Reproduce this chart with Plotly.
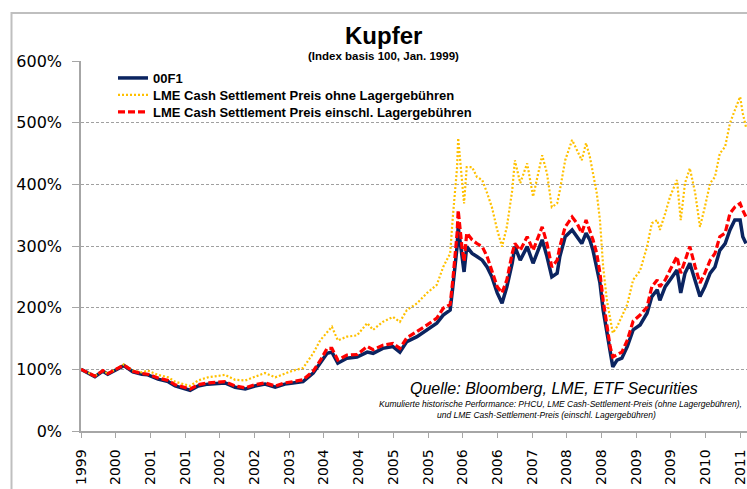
import plotly.graph_objects as go

# ---------------- data ----------------
YEARS = [1999.00, 1999.26, 1999.41, 1999.50, 1999.65, 1999.80, 1999.97, 2000.14, 2000.25, 2000.44,
         2000.63, 2000.76, 2001.04, 2001.19, 2001.37, 2001.69, 2001.88, 2002.07, 2002.25, 2002.44,
         2002.63, 2002.81, 2002.96, 2003.15, 2003.34, 2003.47, 2003.60, 2003.69, 2003.80, 2003.97,
         2004.16, 2004.35, 2004.46, 2004.64, 2004.83, 2004.96, 2005.09, 2005.28, 2005.47, 2005.65,
         2005.77, 2005.90, 2005.95, 2006.03, 2006.05, 2006.12, 2006.16, 2006.21, 2006.31, 2006.40,
         2006.50, 2006.59, 2006.68, 2006.78, 2006.87, 2006.96, 2007.06, 2007.11, 2007.21, 2007.34,
         2007.45, 2007.62, 2007.71, 2007.80, 2007.90, 2007.95, 2008.05, 2008.18, 2008.27, 2008.36,
         2008.44, 2008.51, 2008.57, 2008.64, 2008.70, 2008.76, 2008.83, 2008.89, 2008.94, 2009.02,
         2009.11, 2009.21, 2009.32, 2009.45, 2009.58, 2009.67, 2009.77, 2009.82, 2009.92, 2010.01,
         2010.14, 2010.21, 2010.29, 2010.38, 2010.48, 2010.57, 2010.66, 2010.76, 2010.85, 2010.94,
         2011.04, 2011.13, 2011.22, 2011.32, 2011.37, 2011.43]

PHCU_00F1 = [100, 88, 97, 92, 99, 106, 96, 92, 91, 84,
             80, 73, 66, 73, 76, 78, 71, 68, 73, 76,
             71, 76, 78, 80, 94, 110, 126, 128, 110, 118,
             120, 128, 126, 134, 137, 128, 145, 153, 164, 175,
             188, 196, 234, 299, 331, 283, 258, 299, 288, 283,
             277, 266, 250, 224, 207, 234, 272, 299, 277, 299,
             272, 310, 283, 250, 256, 283, 315, 326, 315, 304,
             321, 310, 293, 266, 240, 196, 159, 126, 104, 115,
             118, 137, 164, 172, 191, 218, 229, 212, 234, 245,
             261, 224, 256, 272, 245, 218, 234, 256, 266, 293,
             304, 326, 342, 342, 315, 304]

LME_OHNE = [100, 89, 98, 93, 100, 108, 98, 95, 98, 91,
            87, 80, 73, 82, 87, 91, 83, 82, 88, 94,
            87, 93, 98, 102, 126, 147, 159, 169, 147, 153,
            155, 175, 164, 177, 185, 177, 196, 207, 224, 237,
            266, 288, 347, 428, 475, 402, 369, 428, 428, 412,
            407, 386, 363, 326, 299, 331, 390, 439, 402, 434,
            380, 447, 418, 363, 369, 390, 439, 472, 455, 439,
            467, 445, 418, 386, 342, 266, 212, 180, 159, 169,
            185, 205, 245, 260, 299, 337, 342, 326, 353, 380,
            407, 342, 402, 426, 386, 331, 363, 402, 412, 450,
            461, 499, 520, 542, 515, 493]

LME_EINSCHL = [100, 89, 98, 93, 100, 107, 97, 93, 92, 86,
               82, 75, 68, 75, 78, 80, 73, 70, 75, 78,
               73, 78, 80, 83, 97, 114, 134, 134, 115, 123,
               124, 137, 132, 139, 142, 134, 151, 161, 172, 183,
               199, 205, 245, 321, 358, 299, 275, 321, 310, 304,
               299, 283, 261, 234, 224, 245, 288, 304, 293, 315,
               293, 331, 304, 266, 277, 299, 331, 347, 337, 321,
               342, 326, 310, 288, 256, 212, 169, 137, 120, 124,
               128, 147, 178, 188, 201, 234, 245, 234, 245, 261,
               283, 256, 277, 299, 266, 240, 256, 277, 288, 315,
               321, 353, 363, 369, 358, 347]

X_TICK_LABELS = ["1999", "2000", "2001", "2001", "2002", "2002", "2003", "2004", "2004", "2005",
                 "2005", "2006", "2006", "2007", "2008", "2008", "2009", "2009", "2010", "2011"]
X_TICK_START = 1999.0
X_TICK_STEP = 0.6486          # years between category ticks
Y_TICKS = [0, 100, 200, 300, 400, 500, 600]
Y_TICK_LABELS = ["0%", "100%", "200%", "300%", "400%", "500%", "600%"]

SERIES_NAMES = ["00F1",
                "LME Cash Settlement Preis ohne Lagergebühren",
                "LME Cash Settlement Preis einschl. Lagergebühren"]

# ---------------- figure ----------------
W, H = 747, 489
ML, MR, MT, MB = 81, 0, 61, 58
PX_PER_YEAR = 53.5
x_end = X_TICK_START + (W - ML - MR) / PX_PER_YEAR

fig = go.Figure()
fig.add_trace(go.Scatter(x=YEARS, y=PHCU_00F1, name=SERIES_NAMES[0], mode="lines",
                         line=dict(color="#0b2460", width=3.5), legend="legend"))
fig.add_trace(go.Scatter(x=YEARS, y=LME_OHNE, name=SERIES_NAMES[1], mode="lines",
                         line=dict(color="#ffc000", width=2.2, dash="2px,2px"), legend="legend2"))
fig.add_trace(go.Scatter(x=YEARS, y=LME_EINSCHL, name=SERIES_NAMES[2], mode="lines",
                         line=dict(color="#ff0000", width=3.2, dash="7px,3px"), legend="legend3"))

tickvals = [X_TICK_START + k * X_TICK_STEP for k in range(len(X_TICK_LABELS))]

pw = W - ML - MR
ph = H - MT - MB
def px_x(p):
    return (p - ML) / pw
def px_y(p):
    return (H - MB - p) / ph

LEG_FONT = dict(family="Liberation Sans, Arial", size=13, color="#000", weight="bold")
def legend_at(py):
    return dict(x=px_x(113), y=px_y(py), xanchor="left", yanchor="middle",
                bgcolor="rgba(0,0,0,0)", itemwidth=30, font=LEG_FONT)

fig.update_layout(
    width=W, height=H,
    margin=dict(l=ML, r=MR, t=MT, b=MB, autoexpand=False),
    paper_bgcolor="white", plot_bgcolor="white",
    showlegend=True,
    legend=legend_at(78),
    legend2=legend_at(95),
    legend3=legend_at(112),
    xaxis=dict(range=[X_TICK_START, x_end], tickmode="array", tickvals=tickvals,
               ticktext=X_TICK_LABELS, tickangle=-90, showgrid=False,
               showline=True, linecolor="#a6a6a6", linewidth=1.5,
               ticks="outside", ticklen=5, tickcolor="#a6a6a6",
               ticklabelstandoff=6, ticklabeloverflow="allow",
               tickfont=dict(family="DejaVu Sans", size=14, color="#000"),
               automargin=False, zeroline=False),
    yaxis=dict(range=[0, 600], tickmode="array", tickvals=Y_TICKS, ticktext=Y_TICK_LABELS,
               showgrid=True, gridcolor="#a0a0a0", gridwidth=1, griddash="3px,2px",
               showline=True, linecolor="#a6a6a6", linewidth=1.5,
               ticks="outside", ticklen=7, tickcolor="#a6a6a6",
               ticklabelstandoff=7,
               tickfont=dict(family="DejaVu Sans", size=16, color="#000"),
               automargin=False, zeroline=False),
    annotations=[
        dict(text="<b>Kupfer</b>", x=px_x(383), y=px_y(35), xref="paper", yref="paper",
             showarrow=False, xanchor="center", yanchor="middle",
             font=dict(family="Liberation Sans, Arial", size=24, color="#000")),
        dict(text="<b>(Index basis 100, Jan. 1999)</b>", x=px_x(383), y=px_y(56),
             xref="paper", yref="paper", showarrow=False, xanchor="center", yanchor="middle",
             font=dict(family="Liberation Sans, Arial", size=11.5, color="#000")),
        dict(text="<i>Quelle: Bloomberg, LME, ETF Securities</i>", x=px_x(554), y=px_y(388),
             xref="paper", yref="paper", showarrow=False, xanchor="center", yanchor="middle",
             font=dict(family="Liberation Sans, Arial", size=16, color="#000")),
        dict(text="<i>Kumulierte historische Performance: PHCU, LME Cash-Settlement-Preis (ohne Lagergebühren),</i>",
             x=px_x(744), y=px_y(404), xref="paper", yref="paper", showarrow=False,
             xanchor="right", yanchor="middle",
             font=dict(family="Liberation Sans, Arial", size=8.5, color="#000")),
        dict(text="<i>und LME Cash-Settlement-Preis (einschl. Lagergebühren)</i>",
             x=px_x(546), y=px_y(415), xref="paper", yref="paper", showarrow=False,
             xanchor="center", yanchor="middle",
             font=dict(family="Liberation Sans, Arial", size=8.5, color="#000")),
    ],
    shapes=[
        dict(type="path", xref="paper", yref="paper",
             path=f"M {px_x(11.5)},{px_y(495)} L {px_x(11.5)},{px_y(13)} L {px_x(760)},{px_y(13)}",
             line=dict(color="#bfbfbf", width=2), layer="below"),
    ],
)

fig.write_html("out.html", config={"displayModeBar": False},
               post_script="document.body.style.margin='0px';document.body.style.overflow='hidden';")
